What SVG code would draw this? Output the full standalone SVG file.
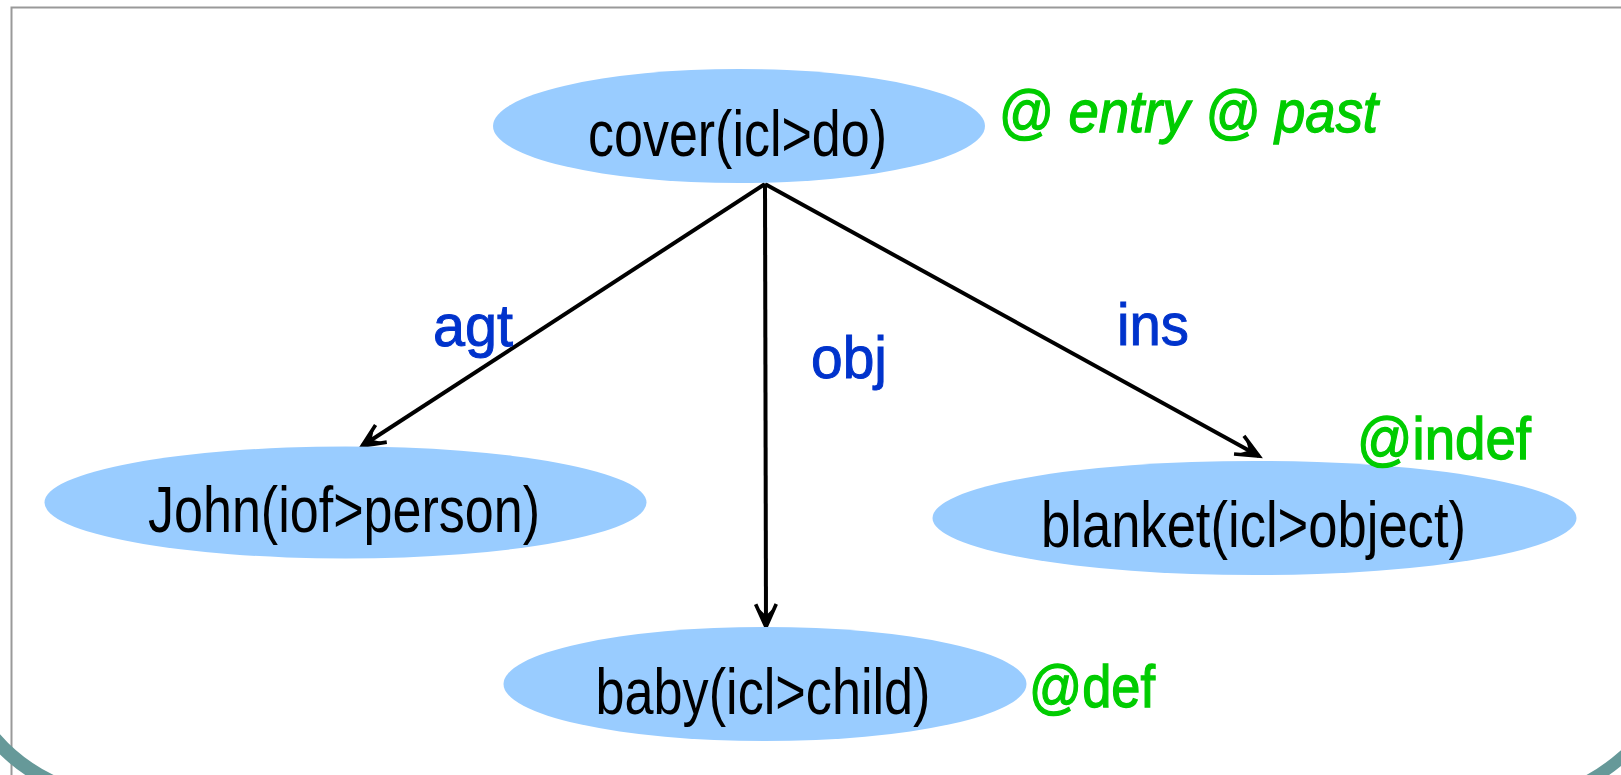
<svg xmlns="http://www.w3.org/2000/svg" width="1621" height="775" viewBox="0 0 1621 775">
<defs>
<style>
.node{fill:#99CCFF;}
.ntext{font-family:"Liberation Sans",Arial,sans-serif;font-size:64px;fill:#000;}
.elabel{font-family:"Liberation Sans",Arial,sans-serif;font-size:60px;fill:#0033CC;stroke:#0033CC;stroke-width:1;}
.attr{font-family:"Liberation Sans",Arial,sans-serif;font-size:60px;fill:#00CC00;stroke:#00CC00;stroke-width:1.3;}
.edge{stroke:#000;stroke-width:4;fill:none;}
</style>
<marker id="arr" markerUnits="userSpaceOnUse" markerWidth="32" markerHeight="32" viewBox="-24 -12 28 24" refX="0" refY="0" orient="auto">
<path d="M-20,-9 L0,0 L-20,9" stroke="#000" stroke-width="3.2" fill="none" stroke-linejoin="miter"/>
<path d="M0,0 L-16,-6 L-10,0 L-16,6 Z" fill="#000"/>
</marker>
</defs>
<rect width="1621" height="775" fill="#fff"/>
<g id="frame">
<path d="M11.5,775 L11.5,7.5 L1621,7.5" stroke="#999" stroke-width="2" fill="none"/>
<path d="M-6,738 Q18,766 52,782" stroke="#669999" stroke-width="14" fill="none"/>
<path d="M1586,782 Q1606,772 1628,752" stroke="#669999" stroke-width="12" fill="none"/>
</g>
<g id="connectors">
<line class="edge" x1="765" y1="184" x2="362" y2="446" marker-end="url(#arr)"/>
<line class="edge" x1="765" y1="184" x2="766" y2="627" marker-end="url(#arr)"/>
<line class="edge" x1="765" y1="184" x2="1259" y2="456" marker-end="url(#arr)"/>
<text class="elabel" x="433" y="346" textLength="80" lengthAdjust="spacingAndGlyphs">agt</text>
<text class="elabel" x="811" y="378" textLength="76" lengthAdjust="spacingAndGlyphs">obj</text>
<text class="elabel" x="1117" y="345" textLength="72" lengthAdjust="spacingAndGlyphs">ins</text>
</g>
<g id="node-cover">
<ellipse class="node" cx="739" cy="126" rx="246" ry="57"/>
<text class="ntext" x="588" y="156" textLength="299" lengthAdjust="spacingAndGlyphs">cover(icl&gt;do)</text>
<text class="attr" x="998" y="132" font-size="58" font-style="italic" textLength="380" lengthAdjust="spacingAndGlyphs">@ entry @ past</text>
</g>
<g id="node-john">
<ellipse class="node" cx="345.5" cy="502.5" rx="301" ry="56"/>
<text class="ntext" x="148" y="532" textLength="392" lengthAdjust="spacingAndGlyphs">John(iof&gt;person)</text>
</g>
<g id="node-blanket">
<ellipse class="node" cx="1254.5" cy="518" rx="322" ry="57"/>
<text class="ntext" x="1041" y="547" textLength="425" lengthAdjust="spacingAndGlyphs">blanket(icl&gt;object)</text>
<text class="attr" x="1357" y="459" textLength="174" lengthAdjust="spacingAndGlyphs">@indef</text>
</g>
<g id="node-baby">
<ellipse class="node" cx="765" cy="684" rx="261.5" ry="57"/>
<text class="ntext" x="595.5" y="714" textLength="335" lengthAdjust="spacingAndGlyphs">baby(icl&gt;child)</text>
<text class="attr" x="1029" y="707" textLength="126" lengthAdjust="spacingAndGlyphs">@def</text>
</g>
</svg>
